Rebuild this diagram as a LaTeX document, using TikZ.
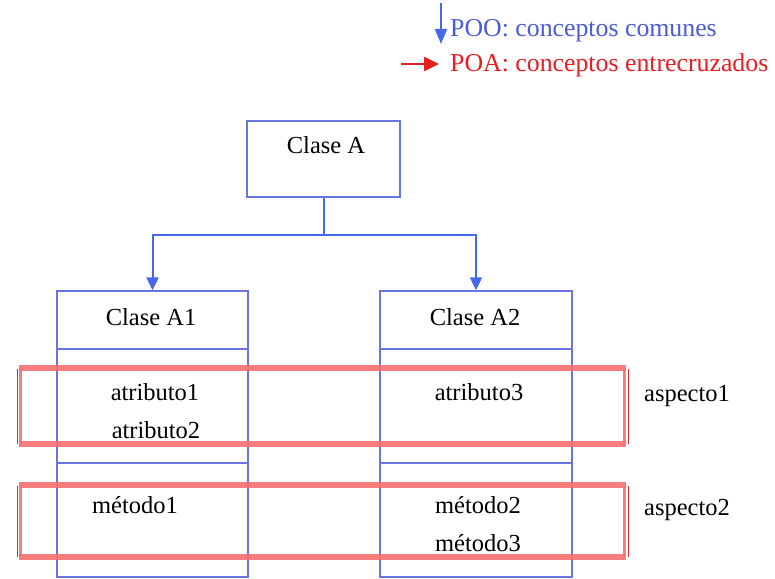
\documentclass[tikz,border=0pt]{standalone}
\usepackage{fontspec}
\setmainfont{Liberation Serif}
\usetikzlibrary{arrows.meta}
\definecolor{boxblue}{RGB}{105,118,225}
\definecolor{arrblue}{RGB}{70,105,235}
\definecolor{txtblue}{RGB}{75,90,215}
\definecolor{txtred}{RGB}{230,30,35}
\definecolor{pinkred}{RGB}{245,112,112}
\definecolor{darkred}{RGB}{215,45,55}
\tikzset{
  cls/.style={draw=boxblue, line width=1.3pt, inner sep=0pt},
  lbl/.style={anchor=base, inner sep=0pt, font=\fontsize{24.5}{29}\selectfont},
  leg/.style={anchor=base west, inner sep=0pt, font=\fontsize{25.8}{30}\selectfont},
  conn/.style={draw=arrblue, line width=2pt, -{Triangle[length=13pt,width=12pt]}},
  divider/.style={draw=boxblue, line width=1.3pt},
  redbar/.style={draw=pinkred, line width=6pt, opacity=0.9},
  redside/.style={draw=pinkred, line width=2.5pt, opacity=0.9},
  darkside/.style={draw=darkred, line width=1.8pt},
}
\begin{document}
\begin{tikzpicture}[x=1pt,y=-1pt]
\useasboundingbox (0,0) rectangle (775,578);
% class boxes
\node[cls, minimum width=153pt, minimum height=76pt] (A) at (323.5,159) {};
\node[cls, minimum width=191pt, minimum height=286pt] (A1) at (152.5,434) {};
\node[cls, minimum width=192pt, minimum height=286pt] (A2) at (476,434) {};
% dividers
\coordinate (d1) at (0,349);
\coordinate (d2) at (0,463);
\draw[divider] (A1.west |- d1) -- (A1.east |- d1);
\draw[divider] (A1.west |- d2) -- (A1.east |- d2);
\draw[divider] (A2.west |- d1) -- (A2.east |- d1);
\draw[divider] (A2.west |- d2) -- (A2.east |- d2);
% connectors
\coordinate (j) at (323.5,235);
\draw[draw=arrblue, line width=2pt] (A.south) -- (j);
\draw[conn] (j) -| (A1.north);
\draw[conn] (j) -| (A2.north);
% texts
\node[lbl] (tA) at (326,153) {Clase A};
\node[lbl] (tA1) at (151,325) {Clase A1};
\node[lbl] (tA2) at (475,325) {Clase A2};
\node[lbl] (at1) at (155,400) {atributo1};
\node[lbl] (at2) at (156,438) {atributo2};
\node[lbl] (m1) at (135,513) {método1};
\node[lbl] (at3) at (479,400) {atributo3};
\node[lbl] (m2) at (478,513) {método2};
\node[lbl] (m3) at (478,551) {método3};
\node[lbl] (asp1) at (687,401) {aspecto1};
\node[lbl] (asp2) at (687,515) {aspecto2};
% aspect rectangles
\foreach \t/\b in {368/444, 485/557}{
  \draw[redbar] (19,\t) -- (626,\t);
  \draw[redbar] (19,\b) -- (626,\b);
  \draw[redside] (20.5,\t) -- (20.5,\b);
  \draw[redside] (624.5,\t) -- (624.5,\b);
  \draw[darkside] (17.5,\t+1) -- (17.5,\b);
  \draw[darkside] (628.5,\t+1) -- (628.5,\b);
}
% legend
\coordinate (lb1) at (441,3);
\coordinate (lb2) at (441,44);
\draw[draw=arrblue, line width=2pt, -{Triangle[length=15pt,width=12pt]}] (lb1) -- (lb2);
\node[leg, text=txtblue] (poo) at (450,37) {POO: conceptos comunes};
\coordinate (lr1) at (401,64);
\coordinate (lr2) at (439,64);
\draw[draw=txtred, line width=2.5pt, -{Triangle[length=15pt,width=14pt]}] (lr1) -- (lr2);
\node[leg, text=txtred] (poa) at (450,71) {POA: conceptos entrecruzados};
\end{tikzpicture}
\end{document}
